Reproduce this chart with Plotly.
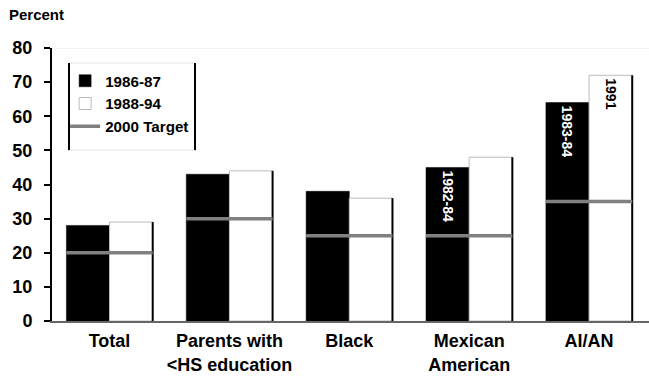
import plotly.graph_objects as go

# Data
categories = ["Total", "Parents with<br>&lt;HS education", "Black", "Mexican<br>American", "AI/AN"]
early = [28, 43, 38, 45, 64]          # 1986-87 survey
recent = [29, 44, 36, 48, 72]         # 1988-94 survey
target = [20, 30, 25, 25, 35]         # Year 2000 target
early_notes = ["", "", "", "1982-84", "1983-84"]
recent_notes = ["", "", "", "", "1991"]

FONT = "Liberation Sans, Arial, sans-serif"
BAR_W = 0.36
pos = list(range(len(categories)))

fig = go.Figure()

fig.add_trace(go.Bar(
    x=pos, y=early, name="1986-87", legendgroup="a", width=BAR_W, offset=-BAR_W,
    marker=dict(color="black", line=dict(color="black", width=0.5)),
    text=early_notes, textposition="inside", insidetextanchor="end",
    textangle=90, textfont=dict(color="white", size=14, family=FONT, weight="bold"),
))
fig.add_trace(go.Bar(
    x=pos, y=recent, name="1988-94", legendgroup="b", width=BAR_W, offset=0,
    marker=dict(color="white", line=dict(color="#bbbbbb", width=1)),
    text=recent_notes, textposition="inside", insidetextanchor="end",
    textangle=90, textfont=dict(color="black", size=14, family=FONT, weight="bold"),
))

# dark right edge of the 1988-94 bars
edge_x, edge_y = [], []
for p, v in zip(pos, recent):
    edge_x += [p + BAR_W, p + BAR_W, None]
    edge_y += [0, v, None]
fig.add_trace(go.Scatter(
    x=edge_x, y=edge_y, mode="lines", showlegend=False, hoverinfo="skip",
    line=dict(color="black", width=2),
))

# target level across each group
tx, ty = [], []
for p, v in zip(pos, target):
    tx += [p - BAR_W, p + BAR_W, None]
    ty += [v, v, None]
fig.add_trace(go.Scatter(
    x=tx, y=ty, mode="lines", name="2000 Target", legendgroup="c",
    line=dict(color="#808080", width=3.5),
))

# legend frame: dark sides, faint top and bottom
FR_L, FR_R, FR_T, FR_B = 0.0285, 0.2395, 0.945, 0.626

frame = [
    dict(type="line", xref="paper", yref="paper", x0=FR_L, x1=FR_R,
         y0=FR_T, y1=FR_T, line=dict(color="#e6e6e6", width=1)),
    dict(type="line", xref="paper", yref="paper", x0=FR_L, x1=FR_R,
         y0=FR_B, y1=FR_B, line=dict(color="#e6e6e6", width=1)),
    dict(type="line", xref="paper", yref="paper", x0=FR_L, x1=FR_L,
         y0=FR_B, y1=FR_T, line=dict(color="black", width=2)),
    dict(type="line", xref="paper", yref="paper", x0=FR_R, x1=FR_R,
         y0=FR_B, y1=FR_T, line=dict(color="black", width=2)),
]

fig.update_layout(
    width=649, height=381,
    margin=dict(l=52, r=0, t=48, b=60),
    paper_bgcolor="white", plot_bgcolor="white",
    font=dict(family=FONT, color="black", size=17, weight="bold"),
    barmode="overlay",
    showlegend=True,
    legend=dict(
        x=0.022, y=0.940, xanchor="left", yanchor="top",
        bgcolor="rgba(0,0,0,0)", borderwidth=0,
        font=dict(size=15.2, family=FONT, color="black", weight="bold"),
        itemwidth=30, traceorder="normal",
    ),
    xaxis=dict(
        range=[-0.48, 4.5], tickmode="array", tickvals=pos, ticktext=categories,
        showgrid=False, zeroline=False, showline=True, linecolor="#666666",
        linewidth=1.5, ticks="", tickfont=dict(size=18, family=FONT, weight="bold"),
        ticklabelstandoff=3,
    ),
    yaxis=dict(
        range=[0, 80], dtick=10, showgrid=False, zeroline=False,
        showline=True, linecolor="black", linewidth=2,
        ticks="outside", ticklen=6, tickwidth=1.5, tickcolor="black",
        tickfont=dict(size=18, family=FONT, weight="bold"), ticklabelstandoff=8,
    ),
    annotations=[dict(
        text="Percent", xref="paper", yref="paper", x=-0.075, y=1.085,
        xanchor="left", yanchor="bottom", showarrow=False,
        font=dict(size=15, family=FONT, weight="bold"),
    )],
    shapes=[
        dict(type="line", xref="paper", yref="y", x0=0, x1=1, y0=80, y1=80,
             line=dict(color="#e8e8e8", width=1)),
    ] + frame,
)

fig.write_html("out.html")
